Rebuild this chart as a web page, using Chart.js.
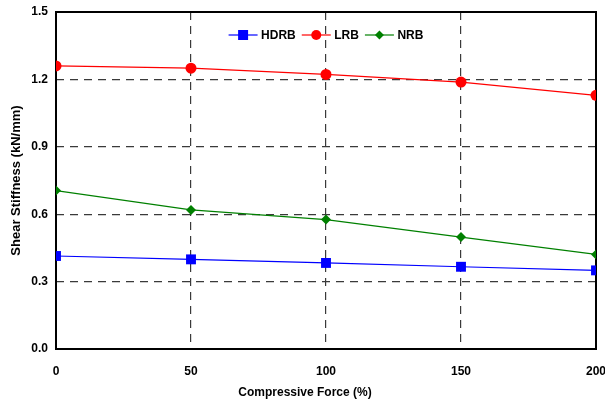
<!DOCTYPE html>
<html>
<head>
<meta charset="utf-8">
<script src="https://cdn.jsdelivr.net/npm/chart.js@4/dist/chart.umd.min.js"></script>
<style>
  html, body { margin: 0; padding: 0; background: #fff; }
  #wrap { width: 605px; height: 405px; }
</style>
</head>
<body>
<div id="wrap"><canvas id="stiffChart" width="605" height="405"></canvas></div>
<script>
// compressive force (%)
const forces = [0, 50, 100, 150, 200];
// shear stiffness (kN/mm)
const hdrb = [0.414, 0.399, 0.383, 0.366, 0.350];
const lrb = [1.260, 1.250, 1.222, 1.188, 1.129];
const nrb = [0.705, 0.619, 0.576, 0.498, 0.421];

const xTicks = [0, 50, 100, 150, 200];
const yTicks = [0.0, 0.3, 0.6, 0.9, 1.2, 1.5];

const xTitle = 'Compressive Force (%)';
const yTitle = 'Shear Stiffness (kN/mm)';

const FONT = "'Liberation Sans', Arial, sans-serif";

function toPoints(vals) {
  return forces.map((f, i) => ({ x: f, y: vals[i] }));
}

function drawMarker(g, shape, x, y) {
  g.beginPath();
  if (shape === 'rect') {
    g.rect(x - 5, y - 5, 10, 10);
  } else if (shape === 'circle') {
    g.arc(x, y, 5, 0, Math.PI * 2);
  } else {
    g.moveTo(x, y - 4.5);
    g.lineTo(x + 4.5, y);
    g.lineTo(x, y + 4.5);
    g.lineTo(x - 4.5, y);
    g.closePath();
  }
  g.fill();
}

// frame round the plot area
const frame = {
  id: 'frame',
  beforeDatasetsDraw(chart) {
    const a = chart.chartArea;
    const ctx = chart.ctx;
    ctx.save();
    ctx.strokeStyle = '#000';
    ctx.lineWidth = 2;
    ctx.strokeRect(a.left, a.top, a.right - a.left, a.bottom - a.top);
    ctx.restore();
  }
};

// legend inside the top of the plot + x axis title centred on the page
const extras = {
  id: 'extras',
  afterDraw(chart) {
    const a = chart.chartArea;
    const ctx = chart.ctx;
    const lineW = 29, textGap = 3.5, itemGap = 6;
    ctx.save();
    ctx.font = 'bold 12px ' + FONT;
    ctx.textBaseline = 'middle';
    ctx.textAlign = 'left';
    const items = chart.data.datasets.map((ds) => ({
      ds,
      w: lineW + textGap + ctx.measureText(ds.label).width
    }));
    const total = items.reduce((s, it) => s + it.w, 0) + itemGap * (items.length - 1);
    let x = (a.left + a.right) / 2 - total / 2;
    const y = a.top + 23;
    items.forEach((it) => {
      const ds = it.ds;
      ctx.strokeStyle = ds.borderColor;
      ctx.fillStyle = ds.backgroundColor;
      ctx.lineWidth = 1.2;
      ctx.beginPath();
      ctx.moveTo(x, y);
      ctx.lineTo(x + lineW, y);
      ctx.stroke();
      drawMarker(ctx, ds.pointStyle, x + lineW / 2, y);
      ctx.fillStyle = '#000';
      ctx.fillText(ds.label, x + lineW + textGap, y + 0.5);
      x += it.w + itemGap;
    });

    ctx.textAlign = 'center';
    ctx.fillText(xTitle, 305, 393);
    ctx.restore();
  }
};

const series = [
  { label: 'HDRB', data: hdrb, color: '#0000ff', shape: 'rect', r: 7 },
  { label: 'LRB', data: lrb, color: '#ff0000', shape: 'circle', r: 5.5 },
  { label: 'NRB', data: nrb, color: '#008000', shape: 'rectRot', r: 5 }
];

new Chart(document.getElementById('stiffChart'), {
  type: 'scatter',
  data: {
    datasets: series.map((s) => ({
      label: s.label,
      data: toPoints(s.data),
      showLine: true,
      borderColor: s.color,
      backgroundColor: s.color,
      borderWidth: 1.2,
      pointStyle: s.shape,
      pointRadius: s.r,
      pointBorderWidth: 0
    }))
  },
  options: {
    responsive: false,
    animation: false,
    layout: { padding: { top: 12, right: 9, left: 0, bottom: 0 } },
    scales: {
      x: {
        type: 'linear',
        min: 0,
        max: 200,
        afterBuildTicks: (scale) => { scale.ticks = xTicks.map((v) => ({ value: v })); },
        afterFit: (scale) => {
          scale.height = 56;
          scale.paddingLeft = 0;
          scale.paddingRight = 0;
        },
        grid: { color: '#3a3a3a', lineWidth: 1.2, drawTicks: false },
        border: { display: false, dash: [8, 6] },
        ticks: {
          padding: 15,
          color: '#000',
          font: { family: FONT, size: 12, weight: 'bold' },
          maxRotation: 0
        },
        title: { display: false }
      },
      y: {
        min: 0,
        max: 1.5,
        afterBuildTicks: (scale) => { scale.ticks = yTicks.map((v) => ({ value: v })); },
        afterFit: (scale) => {
          scale.width = 56;
          scale.paddingTop = 0;
          scale.paddingBottom = 0;
        },
        grid: { color: '#3a3a3a', lineWidth: 1.2, drawTicks: false },
        border: { display: false, dash: [8, 6] },
        ticks: {
          padding: 8,
          color: '#000',
          font: { family: FONT, size: 12, weight: 'bold' },
          callback: (v) => Number(v).toFixed(1)
        },
        title: {
          display: true,
          text: yTitle,
          color: '#000',
          font: { family: FONT, size: 13, weight: 'bold' },
          padding: { top: 9, bottom: 0 }
        }
      }
    },
    plugins: {
      legend: { display: false },
      tooltip: { enabled: false }
    }
  },
  plugins: [frame, extras]
});
</script>
</body>
</html>
